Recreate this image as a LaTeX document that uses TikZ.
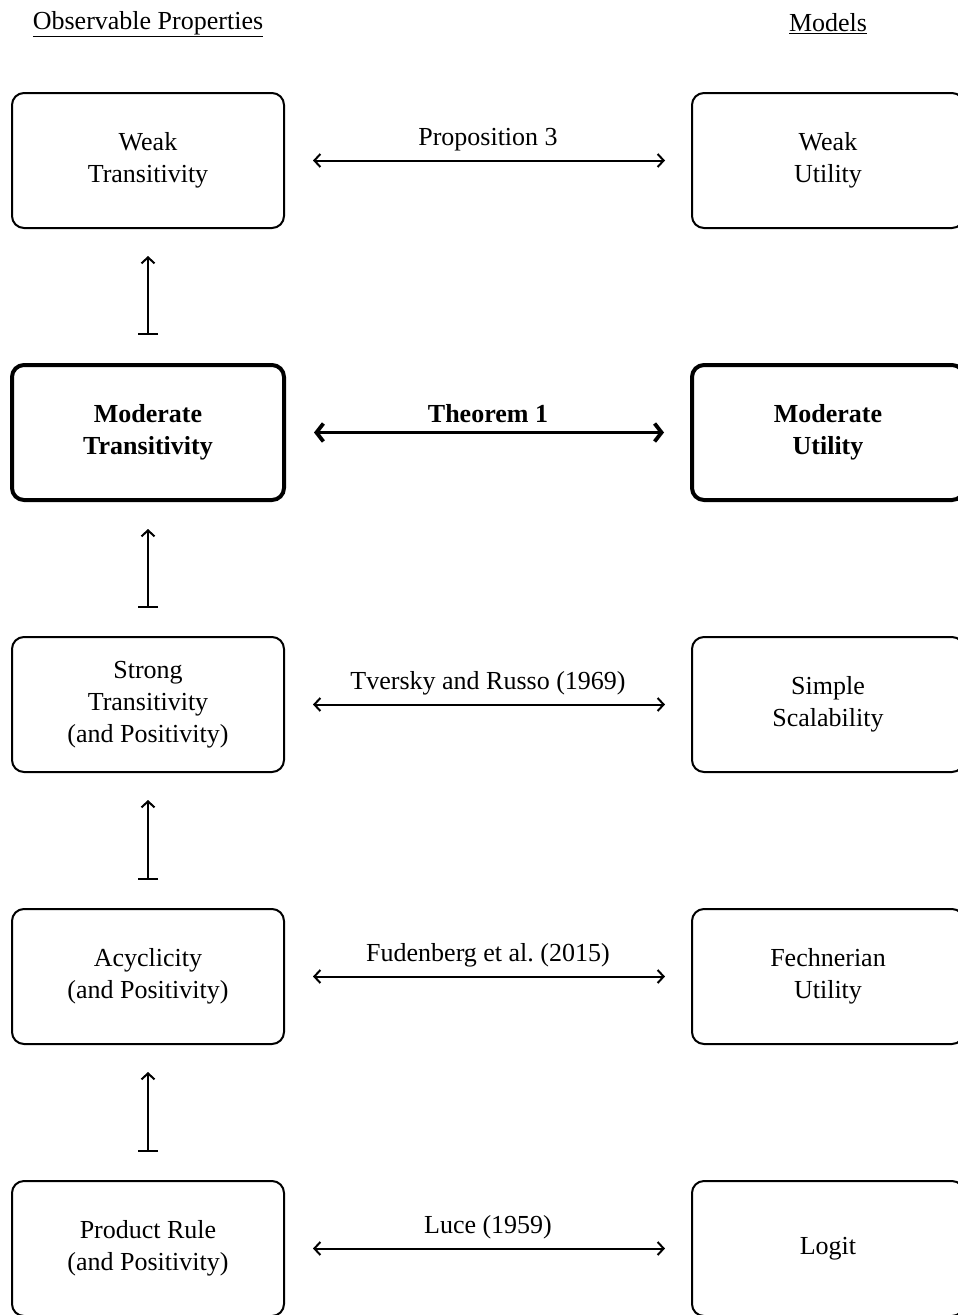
\documentclass[tikz,border=0pt]{standalone}
\usepackage{fontspec}
\setmainfont{Liberation Serif}
\usetikzlibrary{arrows.meta}
\tikzset{
  box/.style={draw, line width=2pt, rounded corners=12pt, minimum width=272pt, minimum height=135pt, align=center, inner sep=0pt, font=\fontsize{26}{32}\selectfont},
  boldbox/.style={box, line width=4pt, font=\fontsize{26}{32}\selectfont\bfseries},
  eq/.style={line width=2pt, {Straight Barb[length=6pt,width=13pt]}-{Straight Barb[length=6pt,width=13pt]}, shorten <=28pt, shorten >=26pt},
  boldeq/.style={line width=3.8pt, {Straight Barb[length=7pt,width=18pt]}-{Straight Barb[length=7pt,width=18pt]}, shorten <=28pt, shorten >=26pt},
  impl/.style={line width=2pt, {Bar[width=20pt]}-{Straight Barb[length=6pt,width=13pt]}, shorten <=28pt, shorten >=27pt},
  lab/.style={font=\fontsize{26}{32}\selectfont, inner sep=0pt},
  boldlab/.style={font=\fontsize{26}{32}\selectfont\bfseries, inner sep=0pt},
  head/.style={font=\fontsize{26}{32}\selectfont, inner sep=0pt}
}
\begin{document}
\begin{tikzpicture}[x=1pt,y=-1pt]
\useasboundingbox (0,0) rectangle (958,1315);
\clip (0,0) rectangle (958,1315);
\node[head] (hl) at (148,24) {\underline{Observable Properties}};
\node[head] (hr) at (828,24) {\underline{Models}};

\node[box] (l1) at (148,160.5) {Weak\\Transitivity};
\node[boldbox] (l2) at (148,432.5) {Moderate\\Transitivity};
\node[box] (l3) at (148,704.5) {Strong\\Transitivity\\(and Positivity)};
\node[box] (l4) at (148,976.5) {Acyclicity\\(and Positivity)};
\node[box] (l5) at (148,1248.5) {Product Rule\\(and Positivity)};

\node[box] (r1) at (828,160.5) {Weak\\Utility};
\node[boldbox] (r2) at (828,432.5) {Moderate\\Utility};
\node[box] (r3) at (828,704.5) {Simple\\Scalability};
\node[box] (r4) at (828,976.5) {Fechnerian\\Utility};
\node[box] (r5) at (828,1248.5) {Logit};

\draw[eq] (l1) -- (r1) node[lab, pos=0.5, yshift=21pt] (t1) {Proposition 3};
\draw[boldeq] (l2) -- (r2) node[boldlab, pos=0.5, yshift=19pt] (t2) {Theorem 1};
\draw[eq] (l3) -- (r3) node[lab, pos=0.5, yshift=21pt] (t3) {Tversky and Russo (1969)};
\draw[eq] (l4) -- (r4) node[lab, pos=0.5, yshift=21pt] (t4) {Fudenberg et al.\ (2015)};
\draw[eq] (l5) -- (r5) node[lab, pos=0.5, yshift=21pt] (t5) {Luce (1959)};

\draw[impl] (l2) -- (l1);
\draw[impl] (l3) -- (l2);
\draw[impl] (l4) -- (l3);
\draw[impl] (l5) -- (l4);
\end{tikzpicture}
\end{document}
